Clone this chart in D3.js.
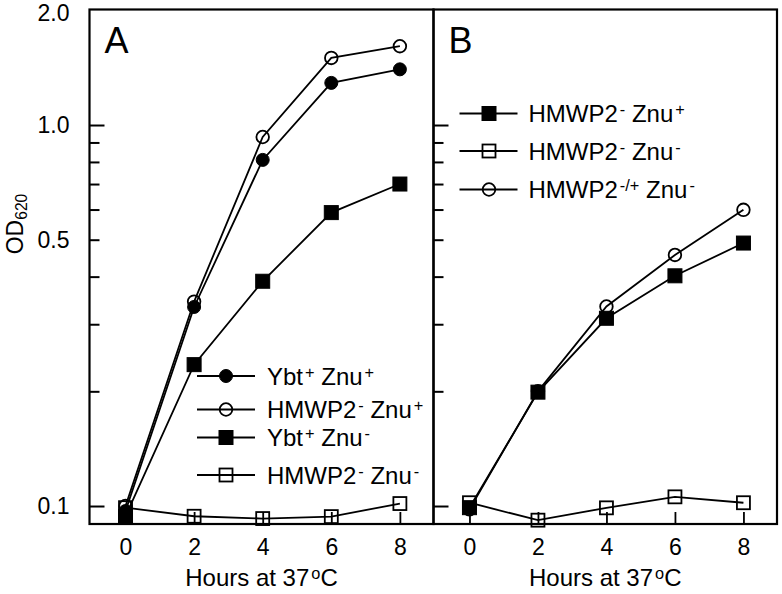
<!DOCTYPE html>
<html><head><meta charset="utf-8">
<script src="https://cdn.jsdelivr.net/npm/d3@7"></script>
<style>
html,body{margin:0;padding:0;background:#fff;}
svg text{font-family:"Liberation Sans",Arial,Helvetica,sans-serif;fill:#000;}
</style></head>
<body>
<svg id="chart" width="782" height="594"></svg>
<script>
// ---- data ----
const hours = [0, 2, 4, 6, 8];
const xTicks = [0, 2, 4, 6, 8];
const yLabelTicks = [0.1, 0.5, 1.0, 2.0];
const yMajorTicks = [0.1, 1.0];
const yMinorTicks = [0.2, 0.3, 0.4, 0.5, 0.6, 0.7, 0.8, 0.9];

// Panel A
const ybtZnuPlus      = [0.097, 0.333, 0.81, 1.29, 1.40];
const hmwp2ZnuPlusA   = [0.100, 0.344, 0.93, 1.50, 1.61];
const ybtZnuMinus     = [0.094, 0.235, 0.389, 0.589, 0.70];
const hmwp2ZnuMinusA  = [0.099, 0.094, 0.0927, 0.0938, 0.1015];
// Panel B
const hmwp2ZnuPlusB   = [0.099, 0.199, 0.311, 0.402, 0.49];
const hmwp2ZnuMinusB  = [0.102, 0.0918, 0.0989, 0.1057, 0.102];
const hmwp2CompZnuMinus = [0.098, 0.200, 0.334, 0.456, 0.599];

// ---- layout ----
const svg = d3.select("#chart");
const plotTop = 9.5, plotBottom = 524;
const panels = [
  {id: "A", left: 89.5, right: 433.5, label: "A",
   series: [
     {vals: ybtZnuPlus, marker: "circle", filled: true, name: [["Ybt"],["+","sup"],[" Znu"],["+","sup"]]},
     {vals: hmwp2ZnuPlusA, marker: "circle", filled: false, name: [["HMWP2"],["-","sup"],[" Znu"],["+","sup"]]},
     {vals: ybtZnuMinus, marker: "square", filled: true, name: [["Ybt"],["+","sup"],[" Znu"],["-","sup"]]},
     {vals: hmwp2ZnuMinusA, marker: "square", filled: false, name: [["HMWP2"],["-","sup"],[" Znu"],["-","sup"]]}
   ],
   legend: {x1: 197, x2: 255, mx: 226, tx: 267, ys: [376, 409.5, 437.5, 475]}},
  {id: "B", left: 433.5, right: 777, label: "B",
   series: [
     {vals: hmwp2ZnuPlusB, marker: "square", filled: true, name: [["HMWP2"],["-","sup"],[" Znu"],["+","sup"]]},
     {vals: hmwp2ZnuMinusB, marker: "square", filled: false, name: [["HMWP2"],["-","sup"],[" Znu"],["-","sup"]]},
     {vals: hmwp2CompZnuMinus, marker: "circle", filled: false, name: [["HMWP2"],["-/+","sup"],[" Znu"],["-","sup"]]}
   ],
   legend: {x1: 459.5, x2: 517.5, mx: 489, tx: 528.5, ys: [113.5, 151, 189.5]}}
];

const y = d3.scaleLog().domain([0.0897, 2.01]).range([plotBottom, plotTop]);

function richText(g, x, yy, parts, size, anchor) {
  const t = g.append("text").attr("x", x).attr("y", yy)
    .attr("font-size", size).attr("text-anchor", anchor || "start");
  parts.forEach(p => {
    const ts = t.append("tspan").text(p[0]);
    if (p[1] === "sup") ts.attr("font-size", size * 0.68).attr("baseline-shift", "45%").attr("dx", 2);
    else if (p[1] === "sub") ts.attr("font-size", size * 0.68).attr("baseline-shift", "-22%");
    else ts.attr("font-size", size);
  });
  return t;
}

function drawMarker(g, type, filled, cx, cy) {
  if (type === "circle") {
    g.append("circle").attr("cx", cx).attr("cy", cy).attr("r", filled ? 6.5 : 6.3)
      .attr("fill", filled ? "#000" : "none").attr("stroke", "#000").attr("stroke-width", filled ? 1 : 1.8);
  } else {
    const s = filled ? 14 : 13;
    g.append("rect").attr("x", cx - s / 2).attr("y", cy - s / 2).attr("width", s).attr("height", s)
      .attr("fill", filled ? "#000" : "none").attr("stroke", "#000").attr("stroke-width", filled ? 1 : 1.8);
  }
}

panels.forEach((p, pi) => {
  const x = d3.scaleLinear().domain([-1.05, 8.98]).range([p.left, p.right]);
  const g = svg.append("g");

  // y ticks (inward)
  g.append("g").attr("transform", `translate(${p.left},0)`)
    .call(d3.axisRight(y).tickValues(yMajorTicks).tickSize(15).tickFormat(""))
    .call(a => a.select(".domain").remove())
    .call(a => a.selectAll("line").attr("stroke-width", 2));
  g.append("g").attr("transform", `translate(${p.left},0)`)
    .call(d3.axisRight(y).tickValues(yMinorTicks).tickSize(10).tickFormat(""))
    .call(a => a.select(".domain").remove())
    .call(a => a.selectAll("line").attr("stroke-width", 2));

  if (pi === 0) {
    g.append("g").attr("transform", `translate(${p.left},0)`)
      .call(d3.axisLeft(y).tickValues(yLabelTicks).tickSize(0).tickPadding(20).tickFormat(d3.format(".1f")))
      .call(a => a.select(".domain").remove())
      .call(a => a.selectAll("text").attr("font-size", 23).attr("font-family", "Liberation Sans, Arial, sans-serif").attr("fill", "#000"))
      .call(a => a.selectAll("text").filter(d => d === 2.0).attr("dy", "0.45em"));
    // y title
    const yt = svg.append("g").attr("transform", "translate(23,224) rotate(-90)");
    richText(yt, 0, 0, [["OD"], ["620", "sub"]], 23, "middle");
  }

  // x ticks (inward, pointing up)
  g.append("g").attr("transform", `translate(0,${plotBottom})`)
    .call(d3.axisTop(x).tickValues(xTicks).tickSize(12).tickFormat(""))
    .call(a => a.select(".domain").remove())
    .call(a => a.selectAll("line").attr("stroke-width", 1.8));
  g.append("g").attr("transform", `translate(0,${plotBottom})`)
    .call(d3.axisBottom(x).tickValues(xTicks).tickSize(0).tickPadding(15).tickFormat(d3.format("d")))
    .call(a => a.select(".domain").remove())
    .call(a => a.selectAll("text").attr("font-size", 23).attr("font-family", "Liberation Sans, Arial, sans-serif").attr("fill", "#000"));

  // x title
  richText(svg, (p.left + p.right) / 2, 586, [["Hours at 37"], ["o", "sup"], ["C"]], 24, "middle");

  // frame
  g.append("rect").attr("x", p.left).attr("y", plotTop).attr("width", p.right - p.left).attr("height", plotBottom - plotTop)
    .attr("fill", "none").attr("stroke", "#000").attr("stroke-width", 2.2);

  // panel letter
  g.append("text").attr("x", p.left + 15).attr("y", 53).attr("font-size", 36).text(p.label);

  // series
  const line = d3.line().x((d, i) => x(hours[i])).y(d => y(d));
  p.series.forEach(s => {
    g.append("path").datum(s.vals).attr("d", line).attr("fill", "none")
      .attr("stroke", "#000").attr("stroke-width", 1.8);
  });
  p.series.forEach(s => {
    s.vals.forEach((v, i) => drawMarker(g, s.marker, s.filled, x(hours[i]), y(v)));
  });

  // legend
  const L = p.legend;
  p.series.forEach((s, i) => {
    const ly = L.ys[i];
    g.append("line").attr("x1", L.x1).attr("x2", L.x2).attr("y1", ly).attr("y2", ly)
      .attr("stroke", "#000").attr("stroke-width", 1.8);
    drawMarker(g, s.marker, s.filled, L.mx, ly);
    richText(g, L.tx, ly + 8.5, s.name, 24, "start");
  });
});
</script>
</body></html>
